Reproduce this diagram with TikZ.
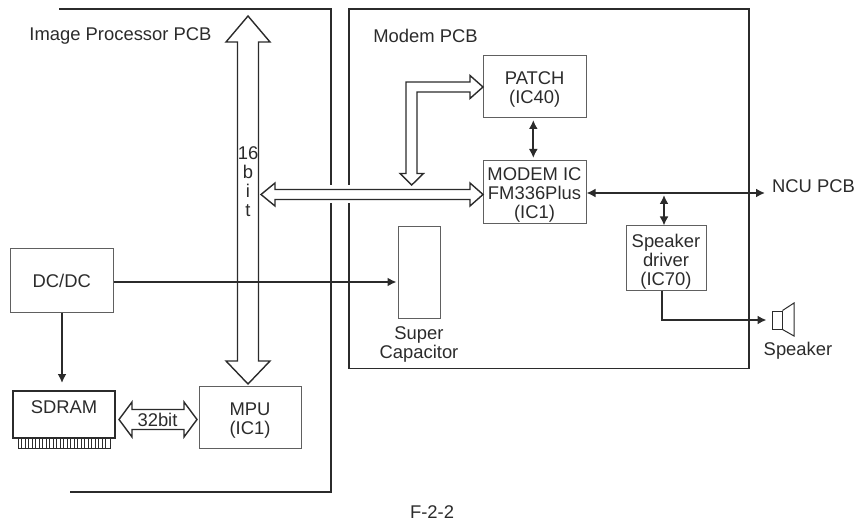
\documentclass[tikz,border=0pt]{standalone}
\usepackage{fontspec}
\setmainfont{Liberation Sans}
\usetikzlibrary{arrows.meta}
\definecolor{inkdark}{HTML}{2B2B2B}
\newcommand{\lowtext}[1]{\rule{0pt}{#1}}
\tikzset{
  blockbox/.style={draw=inkdark!75,line width=1pt,inner sep=0pt,align=center,text=inkdark},
  plaintext/.style={inner sep=0pt,align=center,text=inkdark},
  pcbline/.style={draw=inkdark,line width=1.6pt},
  wireline/.style={draw=inkdark,line width=2.2pt},
  busline/.style={draw=inkdark,fill=white,line width=1.4pt,line join=miter},
  wirearrow/.style={wireline,-{Latex[length=9pt,width=9pt]}},
  wiredouble/.style={wireline,{Latex[length=9pt,width=9pt]}-{Latex[length=9pt,width=9pt]}}
}
\begin{document}
\begin{tikzpicture}[x=1pt,y=-1pt,font=\fontsize{18.4}{19}\selectfont]
  \useasboundingbox (0,0) rectangle (856,521);

  % PCB outlines
  \draw[pcbline] (59,9) -| (331,185);
  \draw[pcbline] (331,203) |- (70,492);
  \draw[pcbline] (349,185) |- (749,9) |- (349,368.5) -- (349,203);
  \node[plaintext] (imagepcb) at (120.5,36) {Image Processor PCB};
  \node[plaintext] (modempcb) at (425.5,36) {Modem PCB};

  % blocks
  \node[blockbox,minimum width=103pt,minimum height=62pt] (patch) at (534.7,87) {\lowtext{18pt}PATCH\\(IC40)};
  \node[blockbox,minimum width=103pt,minimum height=63pt] (modem) at (534.5,192.5) {\lowtext{18pt}MODEM IC\\FM336Plus\\(IC1)};
  \node[blockbox,minimum width=80pt,minimum height=64pt] (driver) at (666,258) {\lowtext{21.5pt}Speaker\\driver\\(IC70)};
  \node[blockbox,minimum width=42pt,minimum height=91pt] (cap) at (419,272.5) {};
  \node[blockbox,minimum width=102.5pt,minimum height=63pt] (dcdc) at (61.75,280.5) {DC/DC};
  \node[blockbox,minimum width=102pt,minimum height=62pt] (mpu) at (250,417) {\lowtext{19pt}MPU\\(IC1)};
  \node[blockbox,draw=inkdark,line width=1.4pt,minimum width=102pt,minimum height=47pt] (sdram) at (64,414.5) {};
  \node[plaintext] (sdramtext) at (64,407) {SDRAM};
  \node[plaintext] (captext) at (419,344) {Super\\Capacitor};
  \node[plaintext] (ncu) at (813.5,186) {NCU PCB};
  \node[plaintext] (speakertext) at (798,351) {Speaker};
  \node[plaintext] (figno) at (432,512) {F-2-2};

  % SDRAM pins
  \draw[inkdark,line width=1pt] (18,438) rectangle (110,448);
  \foreach \pinx in {21.5,25,...,108} {
    \draw[inkdark,line width=0.7pt] (\pinx,438) -- (\pinx,448);
  }

  % speaker
  \node[draw=inkdark,line width=1pt,minimum width=10pt,minimum height=18pt,inner sep=0pt] (spk) at (777,320) {};
  \draw[inkdark,line width=1pt] (spk.north east) -- (794,303) -- (794,336) -- (spk.south east);

  % buses
  \coordinate (bustop) at (248,16);
  \coordinate (busbottom) at (248,384);
  \coordinate (busleft) at (261,194.5);
  \coordinate (busright) at (483,194.5);
  \coordinate (busjoin) at (411.7,185);
  \coordinate (busup) at (483,87);
  \coordinate (ramleft) at (119,419.5);
  \coordinate (ramright) at (197,419.5);

  \draw[busline] (bustop) -- ++(22,26) -- ++(-11.5,0) -- (258.5,361) -- ++(11.5,0)
    -- (busbottom) -- ++(-22,-23) -- ++(11.5,0) -- (237.5,42) -- ++(-11.5,0) -- cycle;
  \draw[busline] (busleft) -- ++(14,-11.5) -- ++(0,6.5) -- (470,189.5) -- ++(0,-6.5)
    -- (busright) -- ++(-13,11.5) -- ++(0,-6.5) -- (275,199.5) -- ++(0,6.5) -- cycle;
  \draw[busline] (busup) -- ++(-13,11.5) -- ++(0,-6.5) -- (417,92) -- (417,173.5) -- ++(6.5,0)
    -- (busjoin) -- ++(-11.7,-11.5) -- ++(6,0) -- (406,82) -- (470,82) -- ++(0,-6.5) -- cycle;
  \draw[busline] (ramleft) -- ++(13,-17.5) -- ++(0,7.5) -- (184,409.5) -- ++(0,-7.5)
    -- (ramright) -- ++(-13,17.5) -- ++(0,-7.5) -- (132,429.5) -- ++(0,7.5) -- cycle;
  \node[plaintext] (sixteen) at (248,181.5) {16\\b\\i\\t};
  \node[plaintext] (thirtytwo) at (157.5,419.5) {32bit};

  % wires
  \coordinate (ncuend) at (765,193);
  \coordinate (ncutee) at (664,195);
  \draw[wiredouble] (modem.east |- ncuend) -- (ncuend);
  \draw[wiredouble] (533.3,120) coordinate (patchport) -- (533.3,158) coordinate (modemport);
  \draw[wiredouble] (ncutee) -- (ncutee |- driver.north);
  \draw[wirearrow,shorten >=5pt] ([xshift=-4pt]driver.south) |- (spk.west);
  \draw[wirearrow,shorten >=1pt] ([yshift=-1.5pt]dcdc.east) -- ([yshift=-1.5pt]dcdc.east -| cap.west);
  \draw[wirearrow] (dcdc.south) ++(0.25,0) coordinate (dcdcport) -- (dcdcport |- 0,383);
\end{tikzpicture}
\end{document}
